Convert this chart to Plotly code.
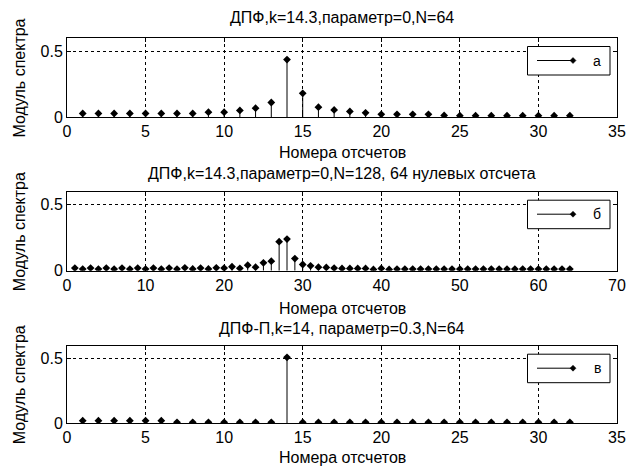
import plotly.graph_objects as go

# ---- data ----
n1 = list(range(1, 33))
v1 = [0.027, 0.027, 0.027, 0.027, 0.027, 0.027, 0.027, 0.027, 0.037, 0.037,
      0.05, 0.067, 0.11, 0.436, 0.18, 0.075, 0.054, 0.042, 0.032, 0.02,
      0.02, 0.02, 0.02, 0.012, 0.01, 0.01, 0.01, 0.01, 0.01, 0.01, 0.01, 0.01]

n2 = list(range(1, 65))
v2 = [0.02, 0.012, 0.02, 0.012, 0.02, 0.012, 0.02, 0.012, 0.02, 0.012,
      0.02, 0.012, 0.02, 0.012, 0.022, 0.013, 0.02, 0.013, 0.022, 0.02,
      0.03, 0.018, 0.042, 0.027, 0.06, 0.072, 0.22, 0.24, 0.092, 0.047,
      0.037, 0.027, 0.025, 0.02, 0.017, 0.017, 0.017, 0.017, 0.01, 0.017,
      0.01, 0.012, 0.012, 0.012, 0.012, 0.012, 0.012, 0.012, 0.012, 0.012,
      0.012, 0.012, 0.012, 0.012, 0.012, 0.012, 0.012, 0.012, 0.012, 0.012,
      0.012, 0.012, 0.012, 0.012]

n3 = list(range(1, 33))
v3 = [0.018, 0.018, 0.018, 0.018, 0.018, 0.018, 0.005, 0.005, 0.005, 0.005,
      0.005, 0.005, 0.005, 0.51, 0.005, 0.005, 0.005, 0.005, 0.005, 0.005,
      0.005, 0.005, 0.005, 0.005, 0.005, 0.005, 0.005, 0.005, 0.005, 0.005,
      0.005, 0.005]

titles = ["ДПФ,k=14.3,параметр=0,N=64",
          "ДПФ,k=14.3,параметр=0,N=128, 64 нулевых отсчета",
          "ДПФ-П,k=14, параметр=0.3,N=64"]
legend_names = ["а", "б", "в"]
xlabel = "Номера отсчетов"
ylabel = "Модуль спектра"
x_ranges = [[0, 35], [0, 70], [0, 35]]
x_dticks = [5, 10, 5]
y_range = [0, 0.6]
y_ticks = [0, 0.5]

FONT = "Liberation Sans, Arial, sans-serif"
FS = 16

# page has an 8px body margin: figure is drawn 8px right/down
W, H = 629, 458
ML, MR, MT, MB = 59, 20, 30, 43
PH = H - MT - MB  # 385

fig = go.Figure()

datasets = [(n1, v1), (n2, v2), (n3, v3)]
domains = [[0.7948, 1.0], [0.3956, 0.6008], [0.0, 0.2008]]

for i, (xs, vs) in enumerate(datasets):
    ax = "" if i == 0 else str(i + 1)
    sx, sy = [], []
    for x, v in zip(xs, vs):
        sx += [x, x, None]
        sy += [0, v, None]
    fig.add_trace(go.Scatter(x=sx, y=sy, mode="lines", line=dict(color="black", width=1),
                             showlegend=False, hoverinfo="skip",
                             xaxis="x" + ax, yaxis="y" + ax))
    fig.add_trace(go.Scatter(x=xs, y=vs, mode="markers", name=legend_names[i],
                             marker=dict(symbol="diamond", size=6, color="black"),
                             showlegend=False, xaxis="x" + ax, yaxis="y" + ax))

axis_common = dict(showline=True, linecolor="black", linewidth=1, mirror="ticks",
                   showgrid=True, gridcolor="black", griddash="3px,3px", gridwidth=1,
                   zeroline=False, ticks="inside", ticklen=4, tickcolor="black",
                   tickfont=dict(family=FONT, size=FS, color="black"))

layout = dict(width=W, height=H, paper_bgcolor="white", plot_bgcolor="white",
              margin=dict(l=ML, r=MR, t=MT, b=MB), showlegend=False,
              font=dict(family=FONT, size=FS, color="black"))

for i in range(3):
    ax = "" if i == 0 else str(i + 1)
    layout["xaxis" + ax] = dict(axis_common, range=x_ranges[i], dtick=x_dticks[i], tick0=0,
                                domain=[0, 1], anchor="y" + ax)
    layout["yaxis" + ax] = dict(axis_common, range=y_range, tickvals=y_ticks,
                                ticktext=["0", "0.5"], domain=domains[i], anchor="x" + ax)

fig.update_layout(**layout)


def py(pix):
    # screenshot pixel y -> paper fraction
    return (423 - pix) / PH


title_y = [17, 173, 328]
xlabel_y = [152, 308, 457]
ylabel_y = [(38 + 117) / 2, (191.7 + 270.7) / 2, (345.7 + 423) / 2]
for i in range(3):
    ax = "" if i == 0 else str(i + 1)
    fig.add_annotation(text=titles[i], xref="paper", yref="paper", x=0.5, y=py(title_y[i]),
                       showarrow=False, xanchor="center", yanchor="middle",
                       font=dict(family=FONT, size=FS, color="black"))
    fig.add_annotation(text=xlabel, xref="paper", yref="paper", x=0.5, y=py(xlabel_y[i]),
                       showarrow=False, xanchor="center", yanchor="middle",
                       font=dict(family=FONT, size=FS, color="black"))
    fig.add_annotation(text=ylabel, xref="paper", yref="paper", x=(19 - 67) / 550,
                       y=py(ylabel_y[i]), showarrow=False, textangle=-90,
                       xanchor="center", yanchor="middle",
                       font=dict(family=FONT, size=FS, color="black"))
    # legend box (pixel-sized, anchored to top-right of each axes)
    xr, yr = "x" + ax + " domain", "y" + ax + " domain"
    fig.add_shape(type="rect", xref=xr, yref=yr, xsizemode="pixel", ysizemode="pixel",
                  xanchor=1, yanchor=1, x0=-89.5, x1=-7, y0=-8.5, y1=-37,
                  fillcolor="white", line=dict(color="black", width=1), layer="above")
    fig.add_shape(type="line", xref=xr, yref=yr, xsizemode="pixel", ysizemode="pixel",
                  xanchor=1, yanchor=1, x0=-80, x1=-44, y0=-22.5, y1=-22.5,
                  line=dict(color="black", width=1), layer="above")
    fig.add_shape(type="path", xref=xr, yref=yr, xsizemode="pixel", ysizemode="pixel",
                  xanchor=1, yanchor=1,
                  path="M -47,-22.5 L -44,-19.5 L -41,-22.5 L -44,-25.5 Z",
                  fillcolor="black", line=dict(color="black", width=0.5), layer="above")
    fig.add_annotation(text=legend_names[i], xref=xr, yref=yr, x=1, y=1,
                       xshift=-20, yshift=-22.5, showarrow=False,
                       xanchor="center", yanchor="middle",
                       font=dict(family=FONT, size=14, color="black"))

fig.write_html("out.html")
